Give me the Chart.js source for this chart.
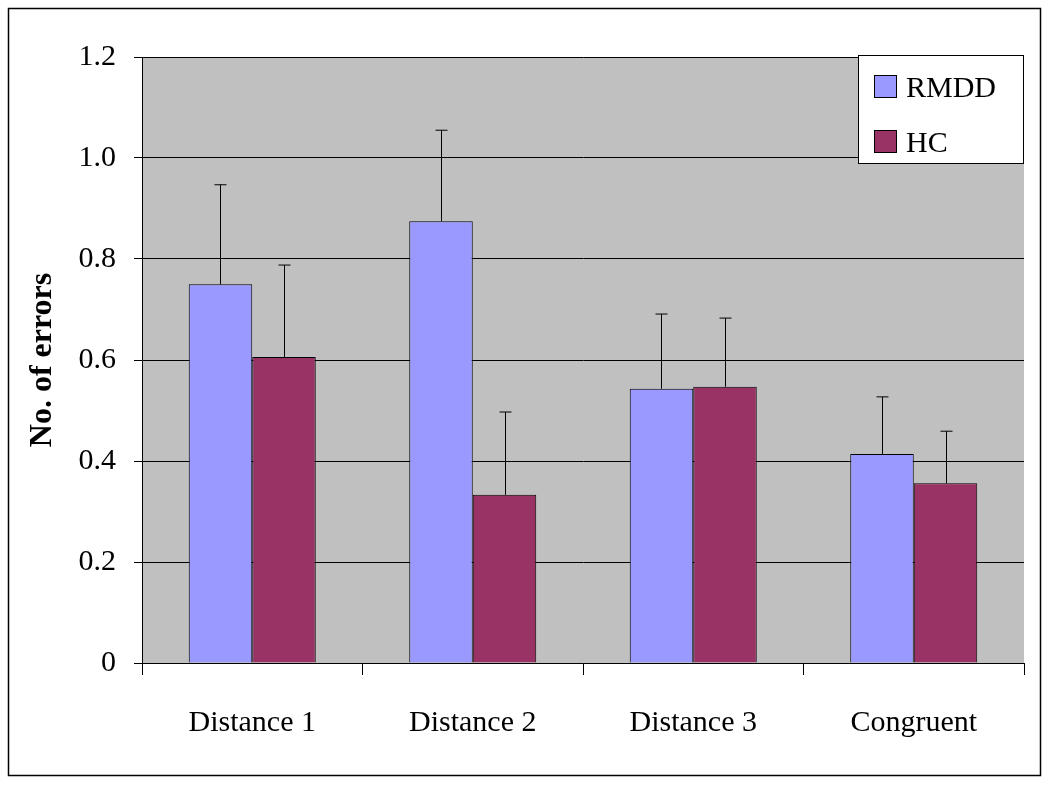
<!DOCTYPE html>
<html><head><meta charset="utf-8">
<script src="https://cdn.jsdelivr.net/npm/chart.js@4"></script>
<style>html,body{margin:0;background:#fff}#w{width:1050px;height:788px;position:relative}</style>
</head><body><div id="w"><canvas id="c" width="1050" height="788"></canvas></div>
<script>
const categories=["Distance 1","Distance 2","Distance 3","Congruent"];
const rmdd=[0.750,0.875,0.543,0.414];
const hc=[0.606,0.333,0.547,0.356];
const rmddErr=[0.197,0.180,0.148,0.113];
const hcErr=[0.182,0.164,0.136,0.103];
const yTicks=[0,0.2,0.4,0.6,0.8,1,1.2];
const font="'Liberation Serif','Times New Roman',serif";
const deco={id:'deco',
 beforeDraw(ch){const {ctx,chartArea:a}=ch;ctx.save();ctx.fillStyle='#c0c0c0';ctx.fillRect(a.left,a.top,a.right-a.left,a.bottom-a.top);ctx.restore();},
 afterDatasetsDraw(ch){const ctx=ch.ctx,y=ch.scales.y;ctx.save();ctx.strokeStyle='#000';ctx.lineWidth=1;
  [rmddErr,hcErr].forEach((errs,di)=>{ch.getDatasetMeta(di).data.forEach((b,i)=>{const v=ch.data.datasets[di].data[i];const x=Math.round(b.x)+0.5;const yt=y.getPixelForValue(v+errs[i]);ctx.beginPath();ctx.moveTo(x,b.y);ctx.lineTo(x,yt);ctx.moveTo(x-6,yt);ctx.lineTo(x+6,yt);ctx.stroke();});});
  // legend
  const lx=858,ly=55,lw=165,lh=108;ctx.fillStyle='#fff';ctx.fillRect(lx,ly,lw,lh);ctx.strokeRect(lx+0.5,ly+0.5,lw,lh);
  const items=[['RMDD','#9999ff'],['HC','#993366']];ctx.font='30px '+font;ctx.textBaseline='middle';
  items.forEach((it,k)=>{const cy=ly+32+k*55;ctx.fillStyle=it[1];ctx.fillRect(lx+16,cy-12,22,22);ctx.strokeRect(lx+16.5,cy-11.5,22,22);ctx.fillStyle='#000';ctx.fillText(it[0],lx+48,cy+2);});
  // outer border
  ctx.lineWidth=1.5;ctx.strokeRect(8.5,8.5,1032,767);ctx.restore();}};
new Chart(document.getElementById('c'),{type:'bar',
 data:{labels:categories,datasets:[
  {label:'RMDD',data:rmdd,backgroundColor:'#9999ff',borderColor:'#000',borderWidth:1,categoryPercentage:0.576,barPercentage:1},
  {label:'HC',data:hc,backgroundColor:'#993366',borderColor:'#000',borderWidth:1,categoryPercentage:0.576,barPercentage:1}]},
 options:{responsive:false,animation:false,layout:{padding:{left:20,top:57,right:26,bottom:0}},
  plugins:{legend:{display:false},tooltip:{enabled:false}},
  scales:{
   x:{afterFit(s){s.height=125;},grid:{offset:true,drawOnChartArea:false,tickLength:12,color:'#000'},border:{color:'#000'},
      ticks:{color:'#000',font:{family:font,size:30},padding:30}},
   y:{min:0,max:1.2,afterFit(s){s.width=122;},afterBuildTicks(s){s.ticks=yTicks.map(v=>({value:v}));},
      grid:{color:'#000',tickLength:8},border:{color:'#000'},
      ticks:{color:'#000',font:{family:font,size:30},padding:18},
      title:{display:true,text:'No. of errors',color:'#000',font:{family:font,size:32,weight:'bold'},padding:{bottom:4}}}}},
 plugins:[deco]});
</script></body></html>
